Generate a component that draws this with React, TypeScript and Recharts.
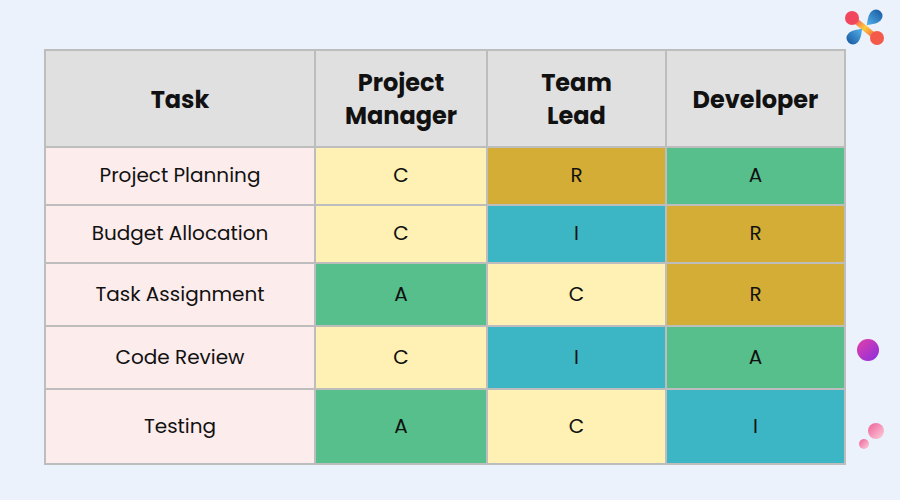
import React from "react";
import { ComposedChart, ReferenceArea, Scatter, XAxis, YAxis } from "recharts";

const taskHeader = "Task";
const roles = ["Project Manager", "Team Lead", "Developer"];
const tasks = ["Project Planning", "Budget Allocation", "Task Assignment", "Code Review", "Testing"];
const projectManager = ["C", "C", "A", "C", "A"];
const teamLead = ["R", "I", "C", "I", "C"];
const developer = ["A", "R", "R", "A", "I"];

// table geometry in chart units (1 unit = 1px of the plot area)
const colWidths = [270, 172, 179, 179];
const rowHeights = [97, 58, 58, 63, 63, 75];

const letterColor: Record<string, string> = {
  R: "#d3ad36",
  A: "#56bf8c",
  C: "#fff0b3",
  I: "#3cb6c4",
};

const headerLines: Record<string, string[]> = {
  "Project Manager": ["Project", "Manager"],
  "Team Lead": ["Team", "Lead"],
  Developer: ["Developer"],
};

const edges = (sizes: number[]) => sizes.reduce<number[]>((acc, s) => [...acc, acc[acc.length - 1] + s], [0]);
const colEdges = edges(colWidths);
const rowEdges = edges(rowHeights);
const totalW = colEdges[colEdges.length - 1];
const totalH = rowEdges[rowEdges.length - 1];

type Cell = { x1: number; x2: number; y1: number; y2: number; fill: string };
type Txt = { x: number; y: number; lines: string[]; bold: boolean; size: number };

const cells: Cell[] = [];
const texts: Txt[] = [];
const roleCols = [projectManager, teamLead, developer];
const header = [taskHeader, ...roles];

header.forEach((h, c) => {
  cells.push({ x1: colEdges[c], x2: colEdges[c + 1], y1: 0, y2: rowEdges[1], fill: "#e0e0e0" });
  texts.push({
    x: (colEdges[c] + colEdges[c + 1]) / 2,
    y: rowEdges[1] / 2,
    lines: headerLines[h] || [h],
    bold: true,
    size: 24,
  });
});

tasks.forEach((t, r) => {
  const y1 = rowEdges[r + 1];
  const y2 = rowEdges[r + 2];
  cells.push({ x1: colEdges[0], x2: colEdges[1], y1, y2, fill: "#fcecec" });
  texts.push({ x: (colEdges[0] + colEdges[1]) / 2, y: (y1 + y2) / 2 - 1, lines: [t], bold: false, size: 20 });
  roleCols.forEach((vals, c) => {
    const v = vals[r];
    cells.push({ x1: colEdges[c + 1], x2: colEdges[c + 2], y1, y2, fill: letterColor[v] });
    texts.push({ x: (colEdges[c + 1] + colEdges[c + 2]) / 2, y: (y1 + y2) / 2 - 1, lines: [v], bold: false, size: 20 });
  });
});

const FONT = "Poppins, Inter, 'Noto Sans', sans-serif";

function TextShape(props: any) {
  const { cx, cy, payload } = props;
  const p = payload as Txt;
  const lh = p.size * 1.4;
  const start = cy - ((p.lines.length - 1) * lh) / 2;
  return (
    <text
      x={cx}
      textAnchor="middle"
      dominantBaseline="central"
      fontFamily={FONT}
      fontWeight={p.bold ? 700 : 400}
      fontSize={p.size}
      fill="#111"
    >
      {p.lines.map((l, i) => (
        <tspan key={i} x={cx} y={start + i * lh}>
          {l}
        </tspan>
      ))}
    </text>
  );
}

function drop(cx: number, cy: number, r: number, angle: number, fill: string) {
  const d = `M0,${-2 * r} C${r * 0.5},${-1.3 * r} ${r},${-0.7 * r} ${r},0 A${r},${r} 0 1 1 ${-r},0 C${-r},${-0.7 * r} ${-r * 0.5},${-1.3 * r} 0,${-2 * r} Z`;
  return <path d={d} fill={fill} transform={`translate(${cx},${cy}) rotate(${angle})`} />;
}

function Decorations() {
  return (
    <svg width={900} height={500} style={{ position: "absolute", left: 0, top: 0, pointerEvents: "none" }}>
      <defs>
        <linearGradient id="band" x1="0" y1="0" x2="1" y2="1">
          <stop offset="0" stopColor="#f2455e" />
          <stop offset="0.5" stopColor="#ffc93a" />
          <stop offset="1" stopColor="#f35a4a" />
        </linearGradient>
        <linearGradient id="blue" x1="0" y1="0" x2="0" y2="1">
          <stop offset="0" stopColor="#55b2ea" />
          <stop offset="1" stopColor="#1b5fa6" />
        </linearGradient>
        <linearGradient id="purple" x1="0" y1="0" x2="1" y2="1">
          <stop offset="0" stopColor="#e340a8" />
          <stop offset="1" stopColor="#8a2ee0" />
        </linearGradient>
        <linearGradient id="pink" x1="0" y1="0" x2="1" y2="1">
          <stop offset="0" stopColor="#ef5f98" />
          <stop offset="1" stopColor="#fbd0dc" />
        </linearGradient>
      </defs>
      <line x1={852} y1={18} x2={877} y2={38} stroke="url(#band)" strokeWidth={6} />
      <circle cx={852} cy={18} r={7} fill="#f2455e" />
      <circle cx={877} cy={38} r={7} fill="#f35a4a" />
      {drop(876, 16, 6.5, -135, "url(#blue)")}
      {drop(853, 38, 6.5, 45, "url(#blue)")}
      <circle cx={868} cy={350} r={11} fill="url(#purple)" />
      <circle cx={876} cy={431} r={8} fill="url(#pink)" />
      <circle cx={864} cy={444} r={5} fill="url(#pink)" />
    </svg>
  );
}

export default function App() {
  return (
    <div style={{ position: "fixed", left: 0, top: 0, width: 900, height: 500, background: "#ebf2fb", overflow: "hidden" }}>
      <ComposedChart
        width={900}
        height={500}
        data={texts}
        margin={{ top: 50, left: 45, right: 900 - 45 - totalW, bottom: 500 - 50 - totalH }}
      >
        <XAxis type="number" dataKey="x" domain={[0, totalW]} hide allowDataOverflow />
        <YAxis type="number" dataKey="y" domain={[0, totalH]} reversed hide allowDataOverflow />
        {cells.map((c, i) => (
          <ReferenceArea
            key={i}
            x1={c.x1}
            x2={c.x2}
            y1={c.y1}
            y2={c.y2}
            fill={c.fill}
            fillOpacity={1}
            stroke="#bdbdbd"
            strokeWidth={2}
          />
        ))}
        <Scatter data={texts} dataKey="y" shape={TextShape} isAnimationActive={false} />
      </ComposedChart>
      <Decorations />
    </div>
  );
}
